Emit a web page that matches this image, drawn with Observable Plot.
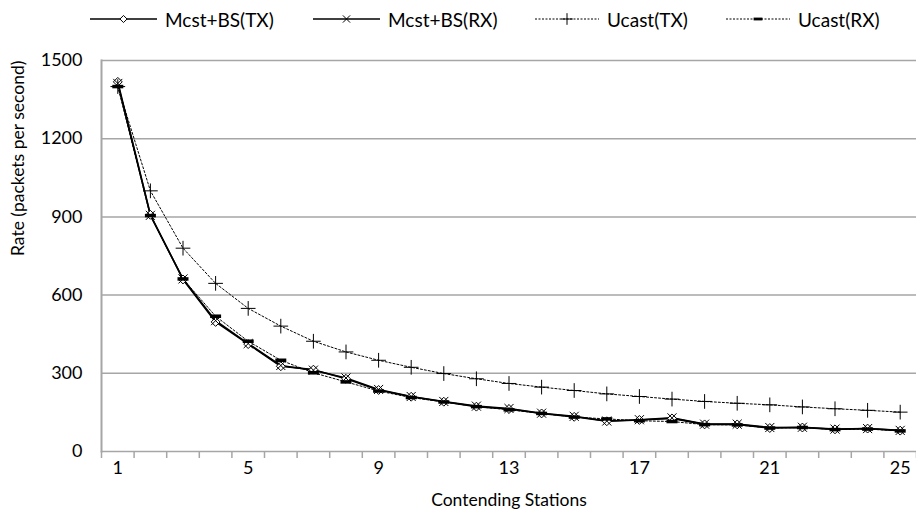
<!DOCTYPE html>
<html>
<head>
<meta charset="utf-8">
<script src="https://cdn.jsdelivr.net/npm/d3@7"></script>
<script src="https://cdn.jsdelivr.net/npm/@observablehq/plot@0.6"></script>
<style>
  html, body { margin: 0; padding: 0; background: #fff; }
  body { width: 916px; height: 522px; overflow: hidden; font-family: Lato, "Open Sans", sans-serif; }
  #legend { position: relative; height: 38px; width: 916px; }
  .item { position: absolute; top: 0; height: 38px; display: flex; align-items: center; font-size: 19px; color: #000; white-space: nowrap; }
  .item svg { display: block; margin-right: 8px; }
</style>
</head>
<body>
<div id="legend"></div>
<div id="chart"></div>
<script>
// ---- data ----
const stations = [1, 2, 3, 4, 5, 6, 7, 8, 9, 10, 11, 12, 13, 14, 15, 16, 17, 18, 19, 20, 21, 22, 23, 24, 25];
const seriesNames = ["Mcst+BS(TX)", "Mcst+BS(RX)", "Ucast(TX)", "Ucast(RX)"];
const mcstTX  = [1418, 908, 660, 497, 412, 327, 314, 279, 236, 210, 191, 172, 163, 146, 133, 116, 121, 127, 104, 104, 90, 92, 85, 88, 80];
const mcstRX  = [1412, 906, 662, 502, 414, 330, 312, 282, 238, 211, 192, 174, 165, 147, 135, 117, 122, 129, 105, 105, 92, 93, 86, 88, 81];
const ucastTX = [1400, 1000, 780, 645, 549, 481, 423, 382, 350, 323, 299, 279, 261, 247, 234, 221, 211, 201, 192, 185, 179, 171, 164, 158, 151];
const ucastRX = [1400, 905, 662, 519, 423, 350, 302, 267, 232, 207, 190, 172, 160, 146, 132, 125, 118, 115, 103, 102, 90, 92, 84, 86, 79];
const yTicks = [0, 300, 600, 900, 1200, 1500];
const xTickLabels = [1, 5, 9, 13, 17, 21, 25];
const yLabel = "Rate (packets per second)";
const xLabel = "Contending Stations";

// ---- build table ----
const valuesBySeries = [mcstTX, mcstRX, ucastTX, ucastRX];
const rows = seriesNames.flatMap((name, i) =>
  stations.map((s, j) => ({ station: s, rate: valuesBySeries[i][j], series: name })));
const bySeries = name => rows.filter(d => d.series === name);

// custom filled dash symbol
const dashSymbol = {
  draw(context, size) {
    const r = Math.sqrt(size / Math.PI);
    context.rect(-r, -r * 0.32, 2 * r, r * 0.64);
  }
};

const styles = {
  "Mcst+BS(TX)": { dash: null, width: 1.6, symbol: "diamond2", fill: "white", r: 4, lw: 67 },
  "Mcst+BS(RX)": { dash: null, width: 1.6, symbol: "times", fill: "none", r: 4.2, lw: 67 },
  "Ucast(TX)":   { dash: "2,2", width: 1, symbol: "plus", fill: "none", r: 4.8, lw: 64 },
  "Ucast(RX)":   { dash: "2,2", width: 1, symbol: dashSymbol, fill: "black", r: 5.5, lw: 64 }
};

const boundaries = [stations[0] - 0.5, ...stations.map(s => s + 0.5)];
const gray = "#a6a6a6";

const marks = [
  Plot.gridY(yTicks, { stroke: gray, strokeOpacity: 1, strokeWidth: 1.5 }),
  Plot.frame({ anchor: "left", stroke: gray, strokeWidth: 2 }),
  Plot.axisX(boundaries, { tickSize: 7, tickFormat: () => "", stroke: gray, strokeWidth: 1.5, strokeOpacity: 1, label: null }),
  Plot.axisX(xTickLabels, { tickSize: 0, tickPadding: 10, fontSize: 18, fill: "#000", label: null, tickFormat: d => String(d) }),
  Plot.axisY(yTicks, { tickSize: 0, tickPadding: 19, fontSize: 18, fill: "#000", label: null, tickFormat: d => String(d) }),
  Plot.text([yLabel], { frameAnchor: "left", rotate: -90, dx: -83, fontSize: 17.5, fill: "#000" }),
  Plot.text([xLabel], { frameAnchor: "bottom", dy: 54, fontSize: 17.5, fill: "#000" })
];
for (const name of seriesNames) {
  const st = styles[name];
  marks.push(Plot.line(bySeries(name), { x: "station", y: "rate", stroke: "black", strokeWidth: st.width, strokeDasharray: st.dash }));
}
for (const name of seriesNames) {
  const st = styles[name];
  marks.push(Plot.dot(bySeries(name), {
    x: "station", y: "rate", symbol: () => st.symbol, r: st.r,
    stroke: st.fill === "black" ? "none" : "black", strokeWidth: 1, fill: st.fill
  }));
}

const chart = Plot.plot({
  width: 916,
  height: 484,
  marginTop: 22,
  marginBottom: 71,
  marginLeft: 101,
  marginRight: 0,
  style: { fontFamily: "Lato, 'Open Sans', sans-serif", background: "white" },
  x: { domain: [boundaries[0], boundaries[boundaries.length - 1]], axis: null },
  y: { domain: [yTicks[0], yTicks[yTicks.length - 1]], axis: null },
  symbol: { type: "identity" },
  marks
});
document.getElementById("chart").appendChild(chart);

// ---- legend ----
const legend = document.getElementById("legend");
const lefts = [90, 313, 535, 726];
seriesNames.forEach((name, i) => {
  const st = styles[name];
  const item = document.createElement("div");
  item.className = "item";
  item.style.left = lefts[i] + "px";
  const w = st.lw, h = 14;
  const svg = d3.create("svg").attr("width", w).attr("height", h);
  svg.append("line").attr("x1", 0).attr("x2", w).attr("y1", h / 2).attr("y2", h / 2)
    .attr("stroke", "black").attr("stroke-width", st.dash ? 1 : 1.3).attr("stroke-dasharray", st.dash ? "2,1.5" : null);
  const symType = typeof st.symbol === "string"
    ? { diamond2: d3.symbolDiamond2, times: d3.symbolTimes, plus: d3.symbolPlus }[st.symbol]
    : st.symbol;
  const rr = st.r * 0.8;
  svg.append("path").attr("transform", `translate(${w / 2},${h / 2})`)
    .attr("d", d3.symbol(symType, Math.PI * rr * rr)())
    .attr("fill", st.fill).attr("stroke", st.fill === "black" ? "none" : "black").attr("stroke-width", 1);
  item.appendChild(svg.node());
  const span = document.createElement("span");
  span.textContent = name;
  item.appendChild(span);
  legend.appendChild(item);
});
</script>
</body>
</html>
